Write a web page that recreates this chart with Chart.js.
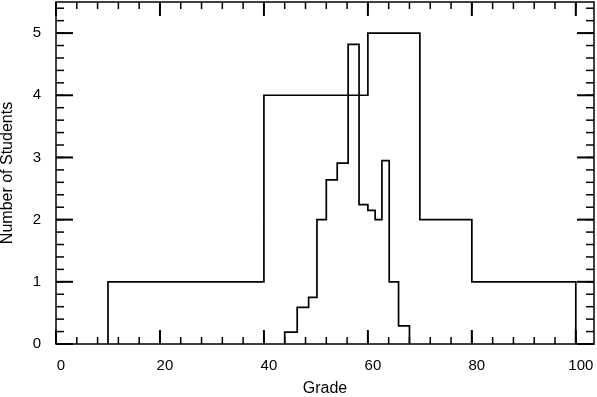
<!DOCTYPE html>
<html><head><meta charset="utf-8">
<script src="https://cdn.jsdelivr.net/npm/chart.js@4/dist/chart.umd.min.js"></script>
<style>html,body{margin:0;padding:0;background:#fff}#wrap{width:597px;height:397px}</style>
</head><body><div id="wrap"><canvas id="c" width="597" height="397"></canvas></div>
<script>
// Coarse histogram (bin edges, counts)
const coarseEdges = [10, 40, 60, 70, 80, 100];
const coarseCounts = [1, 4, 5, 2, 1];
// Fine histogram (bin edges, counts)
const fineEdges = [44.0, 46.4, 48.6, 50.2, 52.0, 54.1, 56.2, 58.3, 60.0, 61.4, 62.7, 64.1, 65.9, 68.0];
const fineCounts = [0.19, 0.59, 0.75, 2.0, 2.64, 2.91, 4.82, 2.24, 2.15, 2.0, 2.95, 1.0, 0.29];
// Axis ticks
const xMajorTicks = [0, 20, 40, 60, 80, 100];
const xMinorStep = 4;
const yMajorTicks = [0, 1, 2, 3, 4, 5];
const yMinorStep = 0.2;
const xLimits = [0, 103.5];
const yLimits = [0, 5.5];

function stepPoints(edges, counts) {
  const pts = [{x: edges[0], y: 0}];
  for (let i = 0; i < counts.length; i++) pts.push({x: edges[i], y: counts[i]});
  const n = edges.length - 1;
  pts.push({x: edges[n], y: counts[counts.length - 1]});
  pts.push({x: edges[n], y: 0});
  return pts;
}

const FONT = '"Liberation Sans", Arial, Helvetica, sans-serif';

const framePlugin = {
  id: 'frame',
  afterDatasetsDraw(chart) {
    const {ctx, chartArea: a, scales: {x, y}} = chart;
    ctx.save();
    ctx.strokeStyle = '#000';
    ctx.lineWidth = 1.5;
    ctx.strokeRect(a.left, a.top, a.right - a.left, a.bottom - a.top);
    const line = (x1, y1, x2, y2, w) => { ctx.lineWidth = w; ctx.beginPath(); ctx.moveTo(x1, y1); ctx.lineTo(x2, y2); ctx.stroke(); };
    for (let v = xLimits[0]; v <= 100 + 1e-9; v += xMinorStep) {
      const px = x.getPixelForValue(v);
      line(px, a.bottom, px, a.bottom - 7, 1.5);
      line(px, a.top, px, a.top + 7, 1.5);
    }
    xMajorTicks.forEach(v => {
      const px = x.getPixelForValue(v);
      line(px, a.bottom, px, a.bottom - 14, 2);
      line(px, a.top, px, a.top + 14, 2);
    });
    for (let i = 0; i * yMinorStep <= yLimits[1] + 1e-9; i++) {
      const py = y.getPixelForValue(i * yMinorStep);
      line(a.left, py, a.left + 8, py, 1.5);
      line(a.right, py, a.right - 8, py, 1.5);
    }
    yMajorTicks.forEach(v => {
      const py = y.getPixelForValue(v);
      line(a.left, py, a.left + 17, py, 2);
      line(a.right, py, a.right - 17, py, 2);
    });
    ctx.restore();
  }
};

new Chart(document.getElementById('c'), {
  type: 'scatter',
  data: {
    datasets: [
      {data: stepPoints(coarseEdges, coarseCounts), showLine: true, stepped: 'before', borderColor: '#000', borderWidth: 1.7, pointRadius: 0, fill: false},
      {data: stepPoints(fineEdges, fineCounts), showLine: true, stepped: 'before', borderColor: '#000', borderWidth: 1.7, pointRadius: 0, fill: false}
    ]
  },
  options: {
    responsive: false,
    animation: false,
    devicePixelRatio: 1,
    layout: {padding: {top: 2, right: 3, left: 0, bottom: 0}},
    plugins: {legend: {display: false}, tooltip: {enabled: false}},
    scales: {
      x: {
        type: 'linear', min: xLimits[0], max: xLimits[1],
        afterBuildTicks: s => { s.ticks = xMajorTicks.map(v => ({value: v})); },
        afterFit: s => { s.height = 53; s.paddingLeft = 0; s.paddingRight = 0; },
        grid: {display: false, drawTicks: false},
        border: {display: false},
        ticks: {color: '#000', font: {family: FONT, size: 15}, padding: 13, labelOffset: 5, maxRotation: 0},
        title: {display: true, text: 'Grade', color: '#000', font: {family: FONT, size: 16, lineHeight: 1}, padding: 0}
      },
      y: {
        type: 'linear', min: yLimits[0], max: yLimits[1],
        afterBuildTicks: s => { s.ticks = yMajorTicks.map(v => ({value: v})); },
        afterFit: s => { s.width = 56; s.paddingTop = 0; s.paddingBottom = 0; },
        grid: {display: false, drawTicks: false},
        border: {display: false},
        ticks: {color: '#000', font: {family: FONT, size: 15}, padding: 15},
        title: {display: true, text: 'Number of Students', color: '#000', font: {family: FONT, size: 16, lineHeight: 1}, padding: 0}
      }
    }
  },
  plugins: [framePlugin]
});
</script>
</body></html>
